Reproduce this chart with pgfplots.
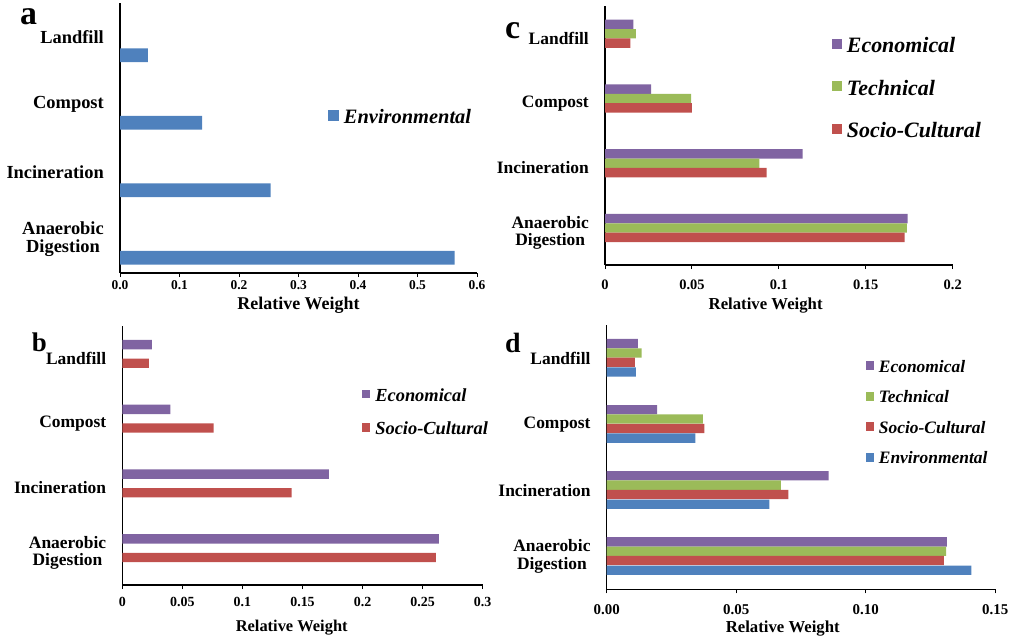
\documentclass[border=0pt]{standalone}
\usepackage{fontspec}
\setmainfont{Liberation Serif}
\usepackage{pgfplots}
\pgfplotsset{compat=1.18}
\definecolor{econ}{HTML}{8064A2}
\definecolor{tech}{HTML}{9BBB59}
\definecolor{soc}{HTML}{C0504D}
\definecolor{env}{HTML}{4F81BD}
\newcommand{\fs}[1]{\fontsize{#1}{#1}\selectfont}
\pgfplotsset{
  panel/.style={
    scale only axis,
    axis x line*=bottom, axis y line*=left,
    axis line style={line width=1.3bp, black},
    ymin=-0.5, ymax=3.5,
    ytick={0,1,2,3},
    yticklabels={{Anaerobic\\Digestion},Incineration,Compost,Landfill},
    yticklabel style={align=center, inner sep=0pt, xshift=-16bp},
    ytick style={draw=none},
    xtick align=outside,
    xtick style={line width=1bp, black},
    major tick length=4bp,
    /pgf/number format/assume math mode=true,
    xticklabel style={anchor=center, inner sep=0pt},
    xlabel={Relative Weight},
    xlabel style={anchor=center, inner sep=0pt},
    legend style={draw=none, fill=none, inner sep=0pt, anchor=west,
      nodes={inner sep=0pt}, column sep=5bp},
    legend cell align=left,
    clip=false,
  },
  bars/.style={xbar, draw=none, fill=#1, bar width=0.144},
}
\begin{document}
\begin{tikzpicture}[x=1bp,y=1bp]
\useasboundingbox (0,0) rectangle (1024,-639);
% ---------------- panel a
\begin{axis}[panel, at={(120bp,-273bp)}, anchor=south west,
  width=357bp, height=270bp, xmin=0, xmax=0.6,
  xtick={0,0.1,...,0.6},
  yticklabel style={font=\fs{18.5}\bfseries},
  xticklabel style={font=\fs{13.5}\bfseries, yshift=-8bp,
    /pgf/number format/fixed, /pgf/number format/precision=1, /pgf/number format/fixed zerofill},
  xlabel style={at={(axis description cs:0.5,0)}, yshift=-32bp, font=\fs{18}\bfseries},
  legend style={at={(0.582,0.578)}, font=\fs{20.5}\bfseries\itshape},
  legend image code/.code={\draw[#1,draw=none] (0bp,-4bp) rectangle (11bp,7bp);},
]
\addplot[bars=env, bar width=0.207, bar shift=-0.274] coordinates {(0.047,3) (0.138,2) (0.253,1) (0.5625,0)};
\addlegendentry{Environmental}
\end{axis}
% ---------------- panel b
\begin{axis}[panel, at={(122.3bp,-585bp)}, anchor=south west,
  width=360.4bp, height=259bp, xmin=0, xmax=0.3,
  xtick={0,0.05,...,0.3},
  yticklabel style={font=\fs{17.5}\bfseries},
  xticklabel style={font=\fs{14}\bfseries, yshift=-13.2bp,
    /pgf/number format/fixed, /pgf/number format/precision=2},
  xlabel style={at={(axis description cs:0.47,0)}, yshift=-43bp, font=\fs{16.5}\bfseries},
  legend style={at={(0.664,0.668)}, font=\fs{18.5}\bfseries\itshape, row sep=19bp},
  legend image code/.code={\draw[#1,draw=none] (0bp,-3bp) rectangle (8.5bp,5.5bp);},
]
\addplot[bars=econ, bar shift=0.212] coordinates {(0.0247,3) (0.040,2) (0.172,1) (0.2636,0)};
\addlegendentry{Economical}
\addplot[bars=soc, bar shift=-0.074] coordinates {(0.0222,3) (0.0761,2) (0.141,1) (0.2611,0)};
\addlegendentry{Socio-Cultural}
\end{axis}
% ---------------- panel c
\begin{axis}[panel, at={(605bp,-265bp)}, anchor=south west,
  width=347.7bp, height=259bp, xmin=0, xmax=0.2,
  xtick={0,0.05,...,0.2},
  yticklabel style={font=\fs{17.5}\bfseries},
  xticklabel style={font=\fs{14.5}\bfseries, yshift=-16bp,
    /pgf/number format/fixed, /pgf/number format/precision=2},
  xlabel style={at={(axis description cs:0.462,0)}, yshift=-40.4bp, font=\fs{16.8}\bfseries},
  legend style={at={(0.652,0.682)}, font=\fs{22}\bfseries\itshape, row sep=25.6bp},
  legend image code/.code={\draw[#1,draw=none] (0bp,-3bp) rectangle (10bp,7bp);},
]
\addplot[bars=econ, bar shift=0.216] coordinates {(0.0163,3) (0.0265,2) (0.1137,1) (0.1740,0)};
\addlegendentry{Economical}
\addplot[bars=tech, bar shift=0.071] coordinates {(0.0178,3) (0.0495,2) (0.0888,1) (0.1736,0)};
\addlegendentry{Technical}
\addplot[bars=soc, bar shift=-0.073] coordinates {(0.0146,3) (0.0499,2) (0.0930,1) (0.1724,0)};
\addlegendentry{Socio-Cultural}
\end{axis}
% ---------------- panel d
\begin{axis}[panel, at={(606.7bp,-589.3bp)}, anchor=south west,
  width=388.6bp, height=264.3bp, xmin=0, xmax=0.15,
  xtick={0,0.05,0.10,0.15},
  yticklabel style={font=\fs{17.5}\bfseries},
  xticklabel style={font=\fs{15}\bfseries, yshift=-16bp,
    /pgf/number format/fixed, /pgf/number format/precision=2, /pgf/number format/fixed zerofill},
  xlabel style={at={(axis description cs:0.453,0)}, yshift=-39.7bp, font=\fs{16.8}\bfseries},
  legend style={at={(0.6665,0.6676)}, font=\fs{17.5}\bfseries\itshape, row sep=16.9bp},
  legend image code/.code={\draw[#1,draw=none] (0bp,-3bp) rectangle (8bp,6bp);},
  bars/.style={xbar, draw=none, fill=#1, bar width=0.141},
]
\addplot[bars=econ, bar shift=0.218] coordinates {(0.0120,3) (0.0195,2) (0.0857,1) (0.1313,0)};
\addlegendentry{Economical}
\addplot[bars=tech, bar shift=0.077] coordinates {(0.0135,3) (0.0371,2) (0.0672,1) (0.1310,0)};
\addlegendentry{Technical}
\addplot[bars=soc, bar shift=-0.065] coordinates {(0.0109,3) (0.0377,2) (0.0701,1) (0.1301,0)};
\addlegendentry{Socio-Cultural}
\addplot[bars=env, bar shift=-0.212] coordinates {(0.0113,3) (0.0342,2) (0.0628,1) (0.1408,0)};
\addlegendentry{Environmental}
\end{axis}
% panel letters
\node[anchor=base west, inner sep=0pt, font=\fs{34}\bfseries] at (20,-25) {a};
\node[anchor=base west, inner sep=0pt, font=\fs{27}\bfseries] at (31.7,-351.7) {b};
\node[anchor=base west, inner sep=0pt, font=\fs{34}\bfseries] at (505,-38.3) {c};
\node[anchor=base west, inner sep=0pt, font=\fs{28}\bfseries] at (505,-352.3) {d};
\end{tikzpicture}
\end{document}
